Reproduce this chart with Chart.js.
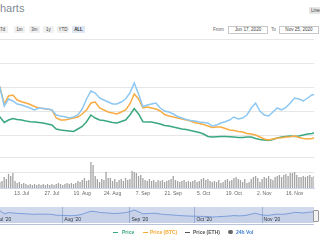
<!DOCTYPE html>
<html><head><meta charset="utf-8">
<script src="https://cdn.jsdelivr.net/npm/chart.js@4.4.0/dist/chart.umd.min.js"></script>
<style>
html,body{margin:0;padding:0;width:320px;height:240px;overflow:hidden;background:#fff;font-family:"Liberation Sans",Arial,sans-serif;}
.a{position:absolute;white-space:nowrap;}
#title{left:-8px;top:2px;font-size:11px;color:#7f8b97;}
.btn{position:absolute;top:26px;height:7px;width:11px;background:#f0f0f0;border-radius:1px;font-size:4.5px;line-height:7px;text-align:center;color:#444;}
.btn.on{background:#dfe7f5;font-weight:bold;color:#333;}
.inp{position:absolute;top:26px;height:6px;border:0.5px solid #c8c8c8;font-size:4.6px;line-height:6px;text-align:center;color:#444;background:#fff;}
.lg{position:absolute;top:229px;font-size:5px;line-height:6px;font-weight:bold;}
.sw{position:absolute;top:231.5px;height:1.3px;width:5px;}
canvas{position:absolute;}
</style></head><body>
<div class="a" id="title">Charts</div>
<div class="btn" style="left:-3px">7d</div>
<div class="btn" style="left:14px">1m</div>
<div class="btn" style="left:29px">3m</div>
<div class="btn" style="left:43px">1y</div>
<div class="btn" style="left:57px;width:12px">YTD</div>
<div class="btn on" style="left:72px;width:13px">ALL</div>
<div class="a" style="left:309px;top:7px;height:7px;width:40px;background:#e6e6e6;font-size:4.5px;line-height:7px;padding-left:2px;color:#444;">Linear Scale</div>
<div class="a" style="left:213px;top:26.5px;font-size:4.6px;line-height:6px;color:#666;">From</div>
<div class="inp" style="left:228px;width:38px">Jun 17, 2020</div>
<div class="a" style="left:271px;top:26.5px;font-size:4.6px;line-height:6px;color:#666;">To</div>
<div class="inp" style="left:279px;width:38px">Nov 25, 2020</div>

<canvas id="price" width="360" height="108" style="left:-40px;top:39px"></canvas>
<canvas id="vol" width="360" height="45" style="left:-40px;top:155px"></canvas>
<div class="a" style="left:-35px;top:206.5px;width:349px;height:16px;border-top:0.5px solid #b9c4dc;border-bottom:0.5px solid #b9c4dc;"></div>
<canvas id="nav" width="360" height="16" style="left:-40px;top:207px"></canvas>
<div class="a" style="left:313px;top:210px;width:4px;height:10px;background:#f2f2f2;border:0.5px solid #999;border-radius:1px;"></div>

<div class="sw" style="left:113px;background:#3aa87f"></div><div class="lg" style="left:122px;color:#3aa87f">Price</div>
<div class="sw" style="left:143px;background:#f7a935"></div><div class="lg" style="left:150px;color:#f7a935">Price (BTC)</div>
<div class="sw" style="left:185px;background:#555"></div><div class="lg" style="left:193px;color:#555">Price (ETH)</div>
<div class="a" style="left:228px;top:229.5px;width:4.5px;height:4.5px;border-radius:50%;background:#666"></div><div class="lg" style="left:236px;color:#3f7fd0">24h Vol</div>

<script>
// day offsets from Jun 17, 2020
const days = [0,2,4,6,8,10,12,14,16,18,20,22,24,26,28,30,32,34,36,38,40,42,44,46,48,50,52,54,56,58,60,62,64,66,68,70,72,74,76,78,80,82,84,86,88,90,92,94,96,98,100,102,104,106,108,110,112,114,116,118,120,122,124,126,128,130,132,134,136,138,140,142,144,146,148,150,152,154,156,158,160,161];
const priceUsd = [0.47,0.44,0.49,0.43,0.45,0.42,0.43,0.41,0.383,0.325,
0.35,0.365,0.355,0.35,0.34,0.333,0.33,0.325,0.32,0.31,
0.30,0.26,0.25,0.245,0.24,0.235,0.26,0.285,0.333,0.40,
0.37,0.35,0.345,0.335,0.325,0.32,0.335,0.35,0.40,0.465,
0.41,0.333,0.33,0.33,0.32,0.31,0.295,0.29,0.28,0.27,
0.26,0.255,0.245,0.235,0.225,0.21,0.185,0.18,0.183,0.185,
0.185,0.183,0.18,0.175,0.175,0.18,0.18,0.165,0.155,0.15,
0.145,0.155,0.17,0.18,0.185,0.19,0.185,0.19,0.20,0.21,
0.215,0.22];
const priceBtcSats = [940,900,960,890,920,870,900,860,833,660,
740,750,700,683,670,655,635,620,615,610,
600,520,500,500,510,520,530,560,600,670,
680,620,600,580,570,560,580,600,660,760,
710,620,630,620,610,590,555,540,530,520,
510,500,490,473,465,455,440,425,430,430,
415,400,395,385,380,365,360,350,330,310,
300,310,320,323,330,333,340,325,315,310,
315,320];
const priceEth = [0.0125,0.0122,0.0128,0.0120,0.0124,0.0118,0.0120,0.0116,0.0113,0.0094,
0.0101,0.0099,0.0096,0.0095,0.00935,0.0092,0.0090,0.0092,0.00915,0.0091,
0.0090,0.0085,0.0084,0.00833,0.0082,0.0083,0.0085,0.0091,0.0101,0.0109,
0.0107,0.0102,0.0100,0.0098,0.0096,0.0096,0.0098,0.0101,0.0107,0.0117,
0.0106,0.00933,0.0095,0.0096,0.0097,0.0092,0.0089,0.0088,0.0086,0.00835,
0.0082,0.00805,0.00795,0.0079,0.0078,0.00775,0.0077,0.0074,0.0075,0.0077,
0.00783,0.0080,0.0083,0.0081,0.0082,0.0085,0.0092,0.0097,0.0089,0.0085,
0.0084,0.0088,0.0092,0.0090,0.00925,0.0097,0.0102,0.0101,0.0099,0.0102,
0.0105,0.01055];
// daily 24h volume (index = day offset)
const volumeDaily = [8,7,9,6,10,8,7,9,11,8,6,7,9,10,8,7,
6,7,11,9,14,12,15,7,5,6,4,5,4,3,4,3,
4,3,4,3,4,3,4,3,4,3,4,5,4,3,4,5,
4,5,4,5,7,6,8,10,7,8,26,23,12,9,6,9,
8,16,10,10,7,9,6,8,9,7,10,8,9,17,16,15,
12,13,10,8,7,9,7,8,6,8,7,8,6,7,8,9,
12,8,7,6,7,8,6,7,6,7,8,6,7,9,10,8,
9,7,6,7,6,8,5,6,8,9,7,8,10,11,9,8,
6,9,5,6,9,11,12,10,6,9,11,10,12,9,8,11,
12,13,11,13,14,12,15,15,16,13,11,11,12,11,12,13,
11,12];
const tickDays = [12,26,40,54,68,82,96,110,124,138,152];
const tickLabels = ['29. Jun','13. Jul','27. Jul','10. Aug','24. Aug','7. Sep','21. Sep','5. Oct','19. Oct','2. Nov','16. Nov'];
const monthDays = [14,45,76,106,137];
const monthLabels = ["Jul '20","Aug '20","Sep '20","Oct '20","Nov '20"];

const PAD = {left:5.2,right:5.9,top:0,bottom:0};
const base = {animation:false,responsive:false,maintainAspectRatio:false,
  plugins:{legend:{display:false},tooltip:{enabled:false}}};
const pts = arr => days.map((d,i)=>({x:d,y:arr[i]}));
const ln = (label,arr,axis,color)=>({label,data:pts(arr),yAxisID:axis,borderColor:color,borderWidth:1.5,pointRadius:0,tension:0,fill:false});

new Chart(document.getElementById('price'),{
  type:'line',
  data:{datasets:[
    ln('Price (ETH)',priceEth,'yEth','#8bc7f2'),
    ln('Price (BTC)',priceBtcSats,'yBtc','#f8ac44'),
    ln('Price',priceUsd,'yUsd','#3aa87f')
  ]},
  options:Object.assign({},base,{
    layout:{padding:PAD},
    scales:{
      x:{type:'linear',min:0,max:161,display:false},
      yGrid:{type:'linear',position:'left',min:-0.5,max:4,
        afterBuildTicks:s=>{s.ticks=[0,1,2,3,4].map(v=>({value:v}));},
        afterFit:s=>{s.width=0;},
        ticks:{display:false},grid:{color:'#e6e6e6',drawTicks:false},border:{display:false}},
      yUsd:{display:false,min:0.08,max:1.16},
      yBtc:{display:false,min:230,max:1310},
      yEth:{display:false,min:0.0053,max:0.0161}
    }
  })
});

new Chart(document.getElementById('vol'),{
  type:'bar',
  data:{datasets:[{label:'24h Vol',data:volumeDaily.map((v,i)=>({x:i,y:v})),backgroundColor:'#a3a3a3',barPercentage:0.75,categoryPercentage:0.8}]},
  options:Object.assign({},base,{
    layout:{padding:{left:PAD.left,right:PAD.right,top:2,bottom:0}},
    scales:{
      x:{type:'linear',min:0,max:161,offset:false,
        afterBuildTicks:s=>{s.ticks=tickDays.map(v=>({value:v}));},
        afterFit:s=>{s.height=12;},
        ticks:{autoSkip:false,maxRotation:0,padding:2.5,color:'#666',font:{size:5,family:'Liberation Sans'},callback:(v,i)=>tickLabels[i]},
        grid:{drawOnChartArea:false,drawTicks:false},border:{color:'#ccd6eb'}},
      y:{min:0,max:31,
        afterBuildTicks:s=>{s.ticks=[15.5,31].map(v=>({value:v}));},
        afterFit:s=>{s.width=0;},
        ticks:{display:false},grid:{color:'#e6e6e6',drawTicks:false},border:{display:false}}
    }
  })
});

const navBg = {id:'navBg',beforeDraw(c){const a=c.chartArea,ctx=c.ctx;ctx.save();ctx.fillStyle='#d1daed';ctx.fillRect(a.left,a.top,a.right-a.left,a.bottom-a.top);ctx.restore();}};
new Chart(document.getElementById('nav'),{
  type:'line',
  data:{datasets:[{label:'nav',data:pts(priceEth),borderColor:'#7396d6',borderWidth:0.9,pointRadius:0,tension:0,fill:'origin',backgroundColor:'rgba(51,92,173,0.06)'}]},
  options:Object.assign({},base,{
    layout:{padding:PAD},
    scales:{
      x:{type:'linear',min:0,max:161,
        afterBuildTicks:s=>{s.ticks=monthDays.map(v=>({value:v}));},
        afterFit:s=>{s.height=0;},
        ticks:{autoSkip:false,maxRotation:0,align:'start',mirror:true,labelOffset:1.5,padding:0,color:'#333',font:{size:5,family:'Liberation Sans'},callback:(v,i)=>monthLabels[i]},
        grid:{color:'rgba(140,158,200,0.7)',drawTicks:false},border:{display:false}},
      y:{display:false,min:0.00372,max:0.01354}
    }
  }),
  plugins:[navBg]
});
</script>
</body></html>
